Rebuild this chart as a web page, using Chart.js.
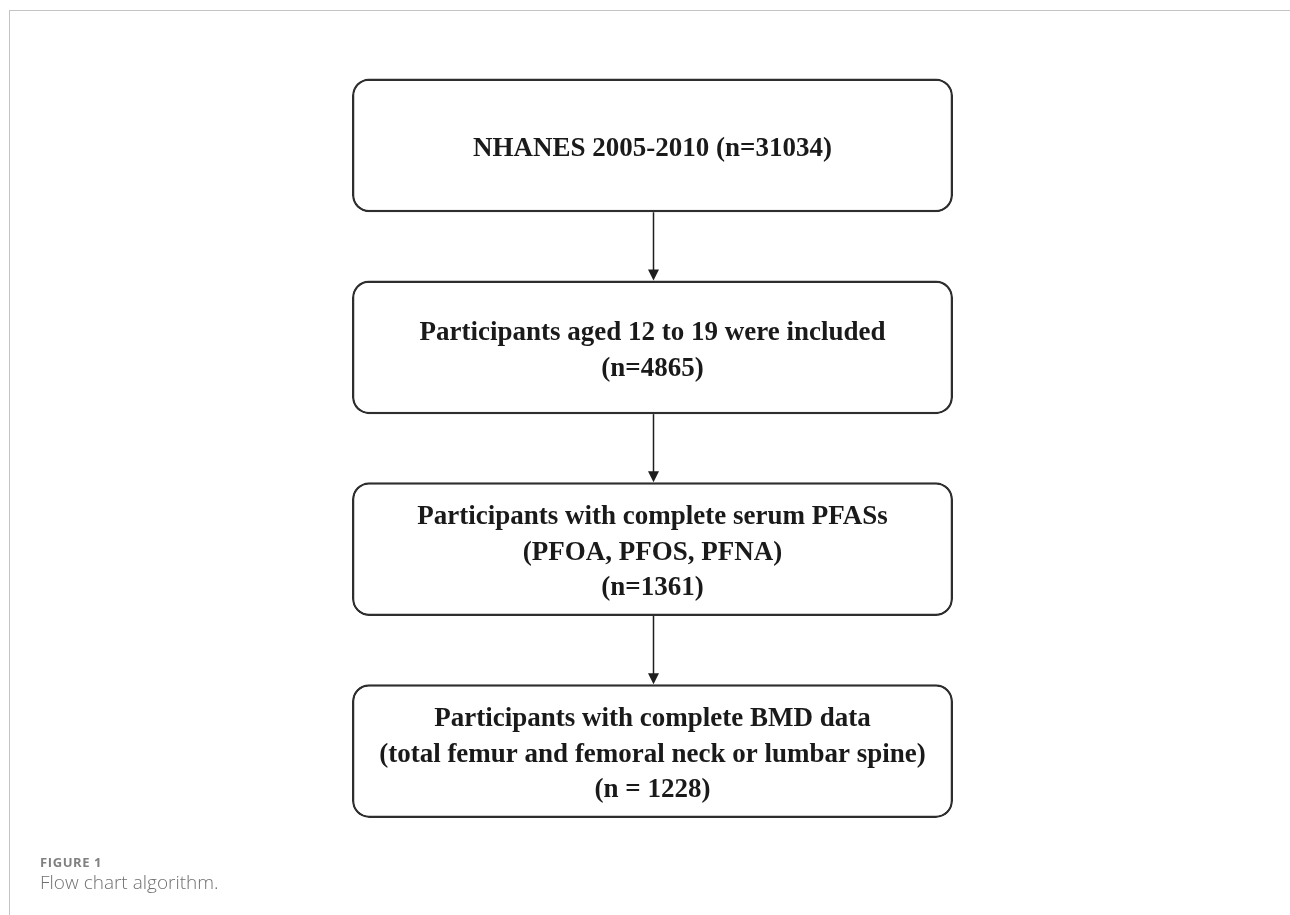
<!DOCTYPE html>
<html>
<head>
<meta charset="utf-8">
<script src="https://cdn.jsdelivr.net/npm/chart.js@4/dist/chart.umd.min.js"></script>
<style>
body{margin:0;background:#fff;width:1290px;height:915px;overflow:hidden;position:relative;font-family:'Open Sans',sans-serif}
#flow{position:absolute;left:0;top:0}
.frame{position:absolute;left:9px;top:10px;right:0;bottom:0;border-top:1px solid #c4c4c4;border-left:1px solid #c4c4c4}
.fig-label{position:absolute;left:40px;top:853px;font-size:13px;font-weight:700;color:#808080;letter-spacing:0.6px}
.fig-title{position:absolute;left:40px;top:869px;font-size:19px;color:#707070;font-weight:300}
</style>
</head>
<body>
<div class="frame"></div>
<canvas id="flow" width="1290" height="915"></canvas>
<div class="fig-label">FIGURE 1</div>
<div class="fig-title">Flow chart algorithm.</div>
<script>
// flow steps, top to bottom
const steps=['NHANES 2005-2010','Participants aged 12 to 19 were included','Participants with complete serum PFASs','Participants with complete BMD data'];
const notes=['','','(PFOA, PFOS, PFNA)','(total femur and femoral neck or lumbar spine)'];
const counts=['(n=31034)','(n=4865)','(n=1361)','(n = 1228)'];
const countInline=[true,false,false,false];

function boxLines(i){
  if(countInline[i]) return [steps[i]+' '+counts[i]];
  const lines=[steps[i]];
  if(notes[i]) lines.push(notes[i]);
  lines.push(counts[i]);
  return lines;
}

// text + arrows drawn from the bar elements
const flowPlugin={
  id:'flow',
  afterDatasetsDraw(chart){
    const ctx=chart.ctx;
    const bars=chart.getDatasetMeta(0).data;
    ctx.save();
    // arrows between boxes
    ctx.strokeStyle='#1e1e1e';
    ctx.fillStyle='#1e1e1e';
    ctx.lineWidth=1.5;
    for(let i=0;i<bars.length-1;i++){
      const a=bars[i].getProps(['x','y','base','height']);
      const b=bars[i+1].getProps(['y','height']);
      const cx=Math.round((a.x+a.base)/2)+0.5;
      const y0=a.y+a.height/2;
      const y1=b.y-b.height/2;
      ctx.beginPath();
      ctx.moveTo(cx,y0);
      ctx.lineTo(cx,y1-10);
      ctx.stroke();
      ctx.beginPath();
      ctx.moveTo(cx-5.5,y1-11);
      ctx.lineTo(cx+5.5,y1-11);
      ctx.lineTo(cx,y1);
      ctx.closePath();
      ctx.fill();
    }
    // box text, centred on the caps
    ctx.fillStyle='#1a1a1a';
    ctx.font='bold 27px "Liberation Serif", "Times New Roman", serif';
    ctx.textAlign='center';
    ctx.textBaseline='alphabetic';
    const lh=35.5;
    bars.forEach((bar,i)=>{
      const p=bar.getProps(['x','y','base']);
      const cx=(p.x+p.base)/2;
      const lines=boxLines(i);
      const top=p.y+1.5-(lines.length-1)*lh/2;
      lines.forEach((t,k)=>ctx.fillText(t,cx,top+k*lh+9));
    });
    ctx.restore();
  }
};

new Chart(document.getElementById('flow').getContext('2d'),{
  type:'bar',
  data:{
    labels:steps,
    datasets:[{
      data:steps.map(()=>[0,1]),
      backgroundColor:'#ffffff',
      borderColor:'#2e2e2e',
      borderWidth:2.5,
      borderRadius:17,
      borderSkipped:false,
      barPercentage:0.662,
      categoryPercentage:1
    }]
  },
  options:{
    indexAxis:'y',
    responsive:false,
    animation:false,
    devicePixelRatio:1,
    layout:{padding:{left:352,right:337,top:44.5,bottom:63}},
    scales:{
      x:{display:false,min:0,max:1},
      y:{display:false}
    },
    plugins:{legend:{display:false},tooltip:{enabled:false}}
  },
  plugins:[flowPlugin]
});
</script>
</body>
</html>
